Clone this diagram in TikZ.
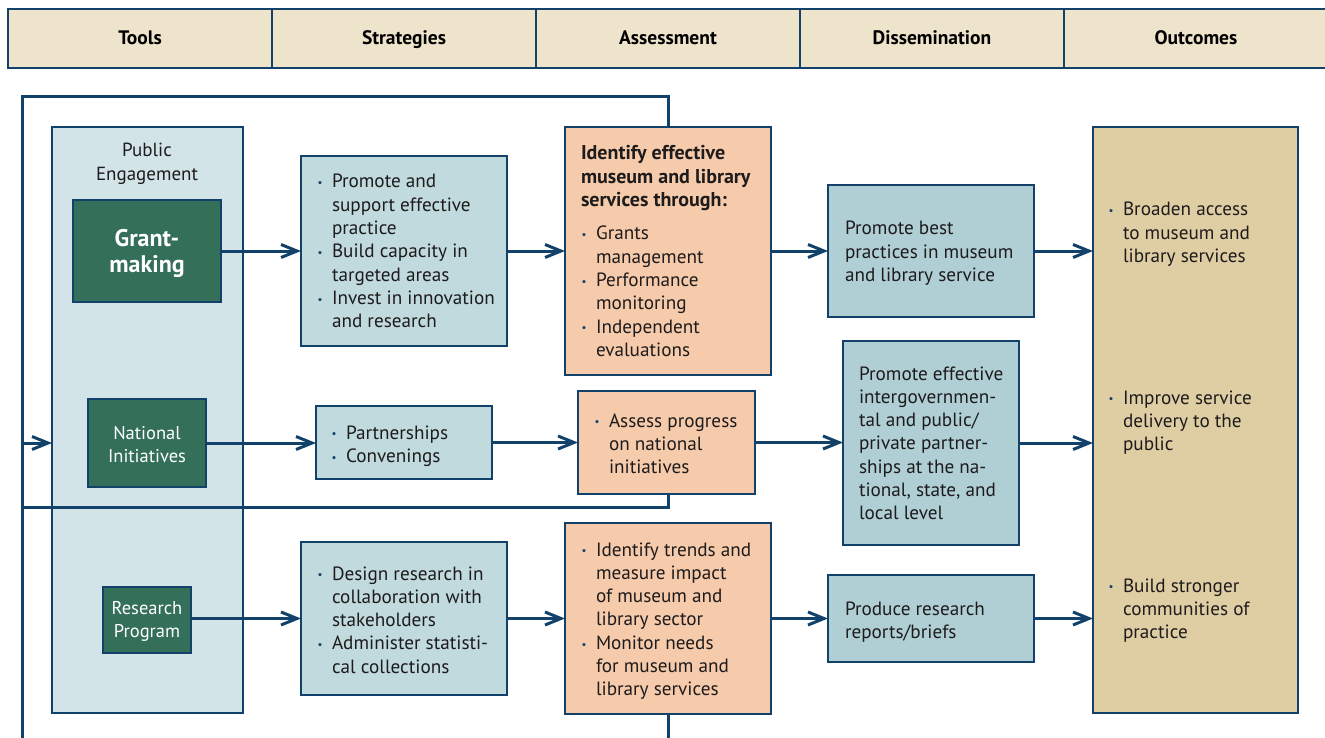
\documentclass[tikz,border=0pt]{standalone}
\usepackage{fontspec}
\setmainfont{PT Sans}
\usetikzlibrary{arrows.meta}
\definecolor{lc}{RGB}{18,66,106}
\definecolor{tc}{RGB}{30,27,28}
\definecolor{hdr}{RGB}{238,227,203}
\definecolor{pefill}{RGB}{210,228,232}
\definecolor{grn}{RGB}{51,111,89}
\definecolor{stfill}{RGB}{192,218,222}
\definecolor{asfill}{RGB}{246,203,171}
\definecolor{dsfill}{RGB}{175,207,213}
\definecolor{oufill}{RGB}{223,206,163}
\newcommand\myb{\llap{\raisebox{1.2pt}{\textcolor{lc}{\fontsize{11}{11}\selectfont\textbullet}}\hspace{9.5pt}}}
\tikzset{
  box/.style={draw=lc, line width=1.5pt, anchor=north west, inner sep=0pt, outer sep=0pt},
  hcell/.style={draw=lc, line width=1.5pt, fill=hdr, anchor=north west, inner sep=0pt, outer sep=0pt,
    minimum width=264pt, minimum height=59pt, text height=13pt, text depth=0pt,
    font=\bfseries\fontsize{19.5}{22}\selectfont, text=black},
  conn/.style={draw=lc, line width=3pt, -{Straight Barb[length=16pt,width=13pt,line width=3pt]}},
  fb/.style={draw=lc, line width=3pt},
  txt/.style={anchor=base west, inner sep=0pt, outer sep=0pt, text=tc, font=\fontsize{19.2}{23.3}\selectfont},
  ctxt/.style={anchor=base, inner sep=0pt, outer sep=0pt},
}
\begin{document}
\begin{tikzpicture}[x=1pt,y=-1pt]
\useasboundingbox (0,0) rectangle (1325,738);
% header
\node[hcell] (h1) at (8,9) {Tools};
\node[hcell] (h2) at (272,9) {Strategies};
\node[hcell] (h3) at (536,9) {Assessment};
\node[hcell] (h4) at (800,9) {Dissemination};
\node[hcell] (h5) at (1064,9) {Outcomes};
% boxes
\node[box, fill=pefill, minimum width=191pt, minimum height=586pt] (pe) at (52,127) {};
\node[box, fill=grn, minimum width=148pt, minimum height=102pt] (gm) at (73,200) {};
\node[box, fill=grn, minimum width=118pt, minimum height=88pt] (ni) at (88,399) {};
\node[box, fill=grn, minimum width=88pt, minimum height=66pt] (rp) at (103,587) {};
\node[box, fill=stfill, minimum width=206pt, minimum height=190pt] (s1) at (301,156) {};
\node[box, fill=stfill, minimum width=176pt, minimum height=73pt] (s2) at (316,406) {};
\node[box, fill=stfill, minimum width=206pt, minimum height=153pt] (s3) at (301,542) {};
\node[box, fill=asfill, minimum width=206pt, minimum height=248pt] (a1) at (565,127) {};
\node[box, fill=asfill, minimum width=177pt, minimum height=103pt] (a2) at (578,391) {};
\node[box, fill=asfill, minimum width=206pt, minimum height=191pt] (a3) at (565,523) {};
\node[box, fill=dsfill, minimum width=206pt, minimum height=132pt] (d1) at (828,185) {};
\node[box, fill=dsfill, minimum width=176pt, minimum height=204pt] (d2) at (843,341) {};
\node[box, fill=dsfill, minimum width=206pt, minimum height=87pt] (d3) at (828,575) {};
\node[box, fill=oufill, minimum width=205pt, minimum height=586pt] (ou) at (1093,127) {};
% feedback loop
\coordinate (tl) at (22,97);
\coordinate (tr) at (668,97);
\coordinate (bl) at (22,738);
\coordinate (ml) at (22,507);
\coordinate (mr) at (668,507);
\coordinate (br) at (668,738);
\coordinate (al) at (22,443);
\draw[fb] (a1.north -| tr) -- (tr) -- (tl) -- (bl);
\draw[fb] (a2.south -| mr) -- (mr) -- (ml);
\draw[fb] (a3.south -| br) -- (br);
\draw[conn] (al) -- (al -| pe.west);
% connectors
\draw[conn] (gm.east) -- (gm.east -| s1.west);
\draw[conn] (s1.east) -- (s1.east -| a1.west);
\draw[conn] (a1.east) -- (a1.east -| d1.west);
\draw[conn] (d1.east) -- (d1.east -| ou.west);
\draw[conn] (ni.east) -- (ni.east -| s2.west);
\draw[conn] (s2.east) -- (s2.east -| a2.west);
\draw[conn] (a2.east) -- (a2.east -| d2.west);
\draw[conn] (d2.east) -- (d2.east -| ou.west);
\draw[conn] (rp.east |- s3.west) -- (s3.west);
\draw[conn] (s3.east) -- (s3.east -| a3.west);
\draw[conn] (a3.east) -- (a3.east -| d3.west);
\draw[conn] (d3.east) -- (d3.east -| ou.west);
% texts: tools
\node[ctxt, text=tc, font=\fontsize{19}{23.5}\selectfont] (tpe) at (147,157) {\begin{tabular}[t]{@{}c@{}}Public\\Engagement\end{tabular}};
\node[ctxt, text=white, font=\bfseries\fontsize{24}{27}\selectfont] (tgm) at (147,246) {\begin{tabular}[t]{@{}c@{}}Grant-\\making\end{tabular}};
\node[ctxt, text=white, font=\fontsize{18.5}{23.3}\selectfont] (tni) at (147,439) {\begin{tabular}[t]{@{}c@{}}National\\Initiatives\end{tabular}};
\node[ctxt, text=white, font=\fontsize{18.5}{23.3}\selectfont] (trp) at (147,614) {\begin{tabular}[t]{@{}c@{}}Research\\Program\end{tabular}};
% strategies
\node[txt] (ts1) at (332,188) {\begin{tabular}[t]{@{}l@{}}\myb Promote and\\support effective\\practice\\\myb Build capacity in\\targeted areas\\\myb Invest in innovation\\and research\end{tabular}};
\node[txt] (ts2) at (346,439) {\begin{tabular}[t]{@{}l@{}}\myb Partnerships\\\myb Convenings\end{tabular}};
\node[txt] (ts3) at (332,580) {\begin{tabular}[t]{@{}l@{}}\myb Design research in\\collaboration with\\stakeholders\\\myb Administer statisti-\\cal collections\end{tabular}};
% assessment
\node[txt, font=\bfseries\fontsize{20}{23.3}\selectfont] (ta1h) at (581,160) {\begin{tabular}[t]{@{}l@{}}Identify effective\\museum and library\\services through:\end{tabular}};
\node[txt] (ta1) at (596,240) {\begin{tabular}[t]{@{}l@{}}\myb Grants\\management\\\myb Performance\\monitoring\\\myb Independent\\evaluations\end{tabular}};
\node[txt] (ta2) at (609,427) {\begin{tabular}[t]{@{}l@{}}\myb Assess progress\\on national\\initiatives\end{tabular}};
\node[txt] (ta3) at (596,556) {\begin{tabular}[t]{@{}l@{}}\myb Identify trends and\\measure impact\\of museum and\\library sector\\\myb Monitor needs\\for museum and\\library services\end{tabular}};
% dissemination
\node[txt] (td1) at (845,235) {\begin{tabular}[t]{@{}l@{}}Promote best\\practices in museum\\and library service\end{tabular}};
\node[txt] (td2) at (859,380) {\begin{tabular}[t]{@{}l@{}}Promote effective\\intergovernmen-\\tal and public/\\private partner-\\ships at the na-\\tional, state, and\\local level\end{tabular}};
\node[txt] (td3) at (845,615) {\begin{tabular}[t]{@{}l@{}}Produce research\\reports/briefs\end{tabular}};
% outcomes
\node[txt] (to1) at (1123,216) {\begin{tabular}[t]{@{}l@{}}\myb Broaden access\\to museum and\\library services\end{tabular}};
\node[txt] (to2) at (1123,404) {\begin{tabular}[t]{@{}l@{}}\myb Improve service\\delivery to the\\public\end{tabular}};
\node[txt] (to3) at (1123,592) {\begin{tabular}[t]{@{}l@{}}\myb Build stronger\\communities of\\practice\end{tabular}};
\end{tikzpicture}
\end{document}
